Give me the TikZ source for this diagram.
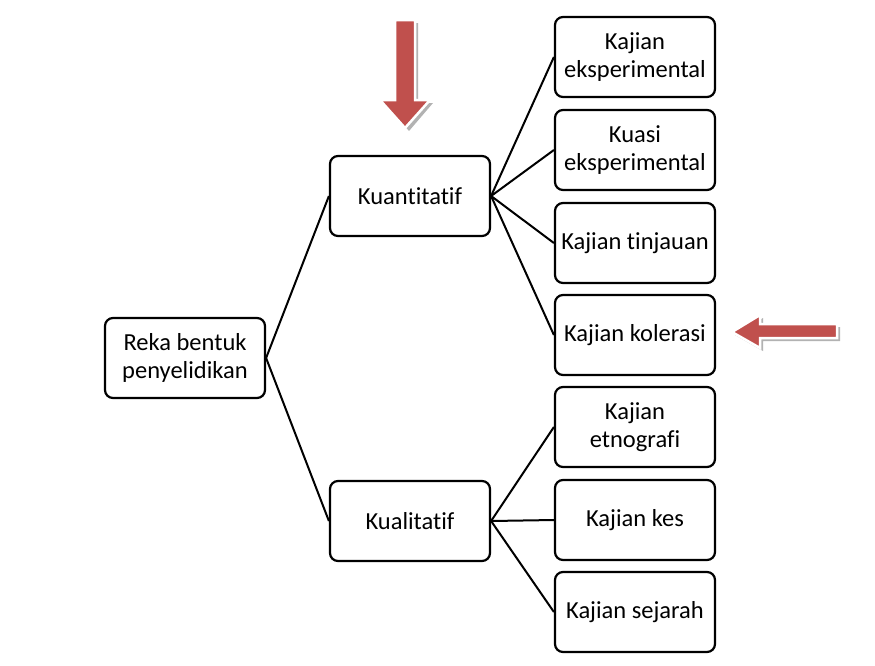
\documentclass[tikz,border=0pt]{standalone}
\usepackage{fontspec}
\setmainfont{Carlito}[Ligatures=NoCommon]
\begin{document}
\begin{tikzpicture}[x=1pt,y=-1pt,
  box/.style={draw=black,line width=2.2pt,rounded corners=8pt,minimum width=160pt,minimum height=80pt,align=center,font=\fontsize{24.5}{28}\selectfont,inner sep=0pt},
  conn/.style={line width=2pt},
  redarrow/.style={fill={rgb,255:red,192;green,80;blue,77},draw=white,line width=2.5pt},
  shadowarrow/.style={fill=black!30,draw=none}]
\useasboundingbox (0,0) rectangle (875,665);
\node[box] (root) at (185,358) {Reka bentuk\\penyelidikan};
\node[box] (kn) at (410,196) {Kuantitatif};
\node[box] (kl) at (410,521) {Kualitatif};
\node[box] (a1) at (635,57) {Kajian\\eksperimental};
\node[box] (a2) at (635,150) {Kuasi\\eksperimental};
\node[box] (a3) at (635,243) {Kajian tinjauan};
\node[box] (a4) at (635,335) {Kajian kolerasi};
\node[box] (b1) at (635,427) {Kajian\\etnografi};
\node[box] (b2) at (635,520) {Kajian kes};
\node[box] (b3) at (635,612) {Kajian sejarah};
\foreach \t in {kn,kl} \draw[conn] (root.east) -- (\t.west);
\foreach \t in {a1,a2,a3,a4} \draw[conn] (kn.east) -- (\t.west);
\foreach \t in {b1,b2,b3} \draw[conn] (kl.east) -- (\t.west);
% down arrow
\fill[shadowarrow] (398,23) -- (418,23) -- (418,103) -- (433,103) -- (409,131) -- (385,103) -- (398,103) -- cycle;
\draw[redarrow] (395,20) -- (415,20) -- (415,100) -- (430,100) -- (405,128) -- (380,100) -- (395,100) -- cycle;
% left arrow
\fill[shadowarrow] (735,335) -- (763,318) -- (763,327) -- (840,327) -- (840,341) -- (763,341) -- (763,351) -- cycle;
\draw[redarrow] (732,332) -- (760,315) -- (760,324) -- (837,324) -- (837,338) -- (760,338) -- (760,348) -- cycle;
\end{tikzpicture}
\end{document}
